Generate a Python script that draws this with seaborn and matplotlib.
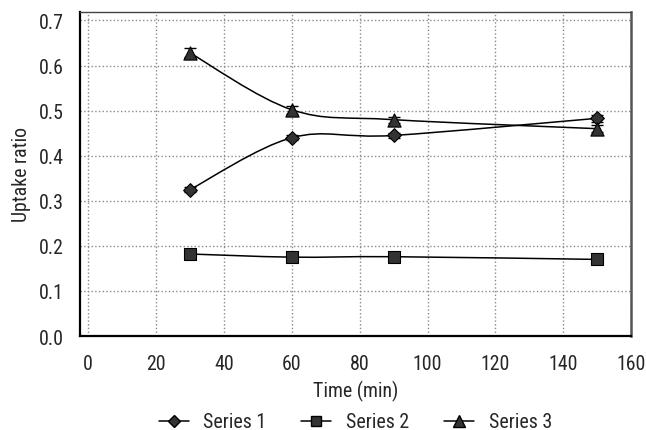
import numpy as np
import pandas as pd
import matplotlib
matplotlib.use("Agg")
import matplotlib.pyplot as plt
from matplotlib.path import Path
from matplotlib.patches import PathPatch
from matplotlib.lines import Line2D
import seaborn as sns

# Data
time_min = [30, 60, 90, 150]
series1 = [0.325, 0.440, 0.445, 0.483]
series2 = [0.182, 0.175, 0.176, 0.170]
series3 = [0.628, 0.502, 0.480, 0.460]
err1 = [0.005, 0.006, 0.005, 0.008]
err2 = [0.004, 0.004, 0.004, 0.004]
err3 = [0.010, 0.009, 0.007, 0.008]
series_names = ["Series 1", "Series 2", "Series 3"]
x_ticks = [0, 20, 40, 60, 80, 100, 120, 140, 160]
y_ticks = [0.0, 0.1, 0.2, 0.3, 0.4, 0.5, 0.6, 0.7]

FS = 14.3
sns.set_theme(style="white")
plt.rcParams['font.family'] = ['Roboto Condensed', 'DejaVu Sans']
plt.rcParams['font.size'] = FS

df = pd.DataFrame({
    "time": time_min * 3,
    "ratio": series1 + series2 + series3,
    "err": err1 + err2 + err3,
    "series": [n for n in series_names for _ in time_min],
})

markers = {"Series 1": "D", "Series 2": "s", "Series 3": "^"}
msizes = {"Series 1": 7, "Series 2": 8, "Series 3": 9.5}
face = "#333333"

fig = plt.figure(figsize=(6.46, 4.31), dpi=100)
ax = fig.add_axes([0.124, 0.218, 0.853, 0.752])


def smooth_path(xs, ys):
    # Excel-style smoothed line: cubic Bezier through the points
    pts = np.column_stack([xs, ys]).astype(float)
    n = len(pts)
    verts = [pts[0]]
    codes = [Path.MOVETO]
    for i in range(n - 1):
        p_prev = pts[i - 1] if i > 0 else pts[i]
        p_next2 = pts[i + 2] if i + 2 < n else pts[i + 1]
        c1 = pts[i] + (pts[i + 1] - p_prev) / 6.0
        c2 = pts[i + 1] - (p_next2 - pts[i]) / 6.0
        verts += [c1, c2, pts[i + 1]]
        codes += [Path.CURVE4] * 3
    return Path(verts, codes)


for name in series_names:
    sub = df[df["series"] == name]
    ax.add_patch(PathPatch(smooth_path(sub["time"], sub["ratio"]),
                           facecolor="none", edgecolor="black", lw=1.1, zorder=3))
    ax.errorbar(sub["time"], sub["ratio"], yerr=sub["err"], fmt="none",
                ecolor="black", elinewidth=1, capsize=4, zorder=4)
    sns.scatterplot(x=sub["time"], y=sub["ratio"], marker=markers[name],
                    s=msizes[name] ** 2, color=face, edgecolor="black",
                    linewidth=0.8, ax=ax, zorder=5)

ax.set_xlim(-2.4, 160)
ax.set_ylim(0, 0.719)
ax.set_xticks(x_ticks)
ax.set_yticks(y_ticks)
ax.set_yticklabels([f"{v:.1f}" for v in y_ticks])
ax.tick_params(axis="both", length=0, labelsize=FS, pad=11.5)
ax.tick_params(axis="x", pad=13)
ax.grid(True, linestyle=":", color="#8a8a8a", linewidth=1.0)

for side in ["left", "bottom"]:
    ax.spines[side].set_color("black")
    ax.spines[side].set_linewidth(1.6)
ax.spines["top"].set_color("#444444")
ax.spines["top"].set_linewidth(1.0)
ax.spines["right"].set_color("#555555")
ax.spines["right"].set_linewidth(1.8)

ax.set_xlabel("Time (min)", fontsize=FS, labelpad=5)
ax.set_ylabel("Uptake ratio", fontsize=FS, labelpad=6)

handles = [Line2D([0], [0], color="black", lw=1.1, marker=markers[n],
                  markersize=msizes[n] * 0.85, markerfacecolor=face,
                  markeredgecolor="black") for n in series_names]
fig.legend(handles, series_names, loc="center", ncol=3, frameon=False,
           bbox_to_anchor=(0.55, 0.0186), fontsize=FS, handlelength=1.5,
           columnspacing=1.75, handletextpad=0.75)

fig.savefig("out.png", dpi=100)
plt.close(fig)
